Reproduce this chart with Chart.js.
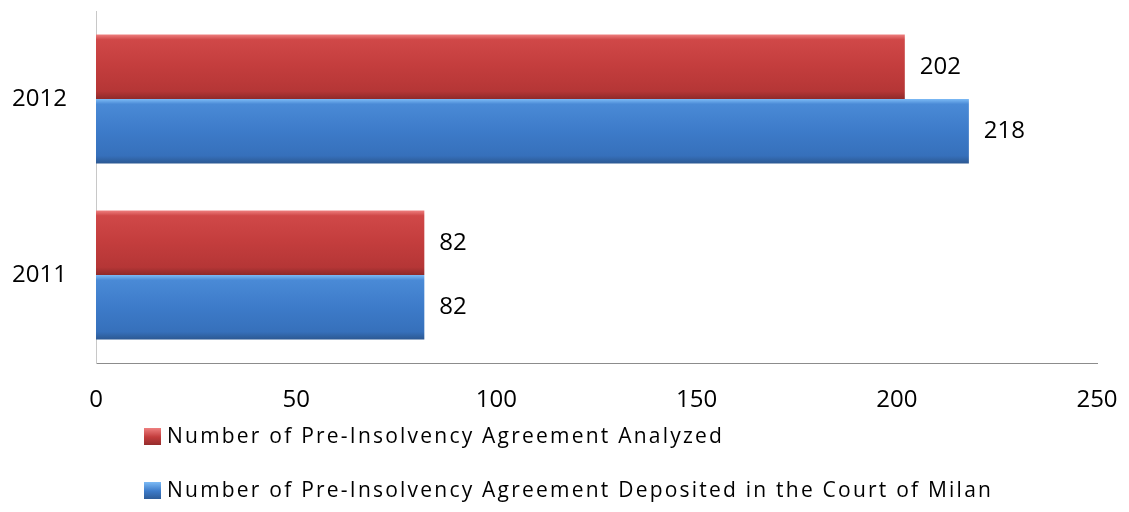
<!DOCTYPE html>
<html>
<head>
<meta charset="utf-8">
<script src="https://cdn.jsdelivr.net/npm/chart.js@4.4.1/dist/chart.umd.min.js"></script>
<style>
  html, body { margin: 0; padding: 0; background: #fff; }
  #wrap { width: 1129px; height: 512px; }
</style>
</head>
<body>
<div id="wrap"><canvas id="myChart"></canvas></div>
<script>
// categories (top to bottom) and series
const years = ["2012", "2011"];
const analyzed = [202, 82];
const deposited = [218, 82];
const seriesNames = [
    "Number of Pre-Insolvency Agreement Analyzed",
    "Number of Pre-Insolvency Agreement Deposited in the Court of Milan",
];
const xTicks = [0, 50, 100, 150, 200, 250];

const FONT = "'Open Sans', Lato, sans-serif";
const CAT_PCT = 0.733;

// bevel-ish gradients, light on top, dark at the bottom
const palettes = [
    ["#ee7f7f", "#d04848", "#c33d3d", "#b53636", "#8f2a2a"],
    ["#7cbaf5", "#4a8ad6", "#3d7bc9", "#3670bb", "#2c5892"],
];

function barFill(ctx) {
    const chart = ctx.chart;
    const y = chart.scales.y;
    const pal = palettes[ctx.datasetIndex];
    if (!y || y.top === undefined) return pal[2];
    const center = y.getPixelForValue(ctx.dataIndex);
    const catH = (y.bottom - y.top) / years.length;
    const h = catH * CAT_PCT / 2;
    const top = ctx.datasetIndex === 0 ? center - h : center;
    const g = chart.ctx.createLinearGradient(0, top, 0, top + h);
    g.addColorStop(0, pal[0]);
    g.addColorStop(0.08, pal[1]);
    g.addColorStop(0.5, pal[2]);
    g.addColorStop(0.88, pal[3]);
    g.addColorStop(1, pal[4]);
    return g;
}

// value labels to the right of the bars
const valueLabels = {
    id: "valueLabels",
    afterDatasetsDraw(chart) {
        const c = chart.ctx;
        c.save();
        c.font = "24px " + FONT;
        c.fillStyle = "#000";
        c.textBaseline = "middle";
        c.textAlign = "left";
        chart.data.datasets.forEach((ds, i) => {
            chart.getDatasetMeta(i).data.forEach((bar, j) => {
                c.fillText(String(ds.data[j]), bar.x + 15, bar.y);
            });
        });
        c.restore();
    },
};

// vertical legend under the axis
const sideLegend = {
    id: "sideLegend",
    afterDraw(chart) {
        const c = chart.ctx;
        c.save();
        c.font = "21px " + FONT;
        c.textBaseline = "middle";
        // spread the text out like the original
        const w = c.measureText(seriesNames[1]).width;
        c.letterSpacing = Math.max(0, (826 - w) / seriesNames[1].length).toFixed(2) + "px";
        seriesNames.forEach((name, i) => {
            const cy = 437 + i * 54;
            const pal = palettes[i];
            const g = c.createLinearGradient(0, cy - 9, 0, cy + 9);
            g.addColorStop(0, pal[0]);
            g.addColorStop(0.5, pal[2]);
            g.addColorStop(1, pal[4]);
            c.fillStyle = g;
            c.fillRect(144, cy - 9, 17, 17);
            c.fillStyle = "#000";
            c.fillText(name, 167, cy);
        });
        c.restore();
    },
};

const data = {
    labels: years,
    datasets: [
        { label: seriesNames[0], data: analyzed, backgroundColor: barFill },
        { label: seriesNames[1], data: deposited, backgroundColor: barFill },
    ],
};

const config = {
    type: "bar",
    data: data,
    plugins: [valueLabels, sideLegend],
    options: {
        indexAxis: "y",
        responsive: true,
        maintainAspectRatio: false,
        animation: false,
        layout: { padding: { left: 10, right: 32, top: 11, bottom: 97 } },
        datasets: {
            bar: { categoryPercentage: CAT_PCT, barPercentage: 1, borderWidth: 0 },
        },
        scales: {
            x: {
                min: 0,
                max: 250,
                afterBuildTicks(axis) {
                    axis.ticks = xTicks.map((v) => ({ value: v }));
                },
                afterFit(axis) {
                    axis.height = 52;
                    axis.paddingLeft = 0;
                    axis.paddingRight = 0;
                    axis.paddingTop = 0;
                    axis.paddingBottom = 0;
                },
                grid: { display: false, drawTicks: false },
                border: { display: true, color: "#8c8c8c", width: 1 },
                ticks: { color: "#000", padding: 23, maxRotation: 0, font: { family: FONT, size: 24 } },
            },
            y: {
                afterFit(axis) {
                    axis.width = 86;
                    axis.paddingLeft = 0;
                    axis.paddingRight = 0;
                    axis.paddingTop = 0;
                    axis.paddingBottom = 0;
                },
                grid: { display: false, drawTicks: false },
                border: { display: true, color: "#c8c8c8", width: 1 },
                ticks: { color: "#000", padding: 29, font: { family: FONT, size: 24 } },
            },
        },
        plugins: {
            legend: { display: false },
            tooltip: { enabled: false },
        },
    },
};

const myChart = new Chart(document.getElementById("myChart"), config);
</script>
</body>
</html>
